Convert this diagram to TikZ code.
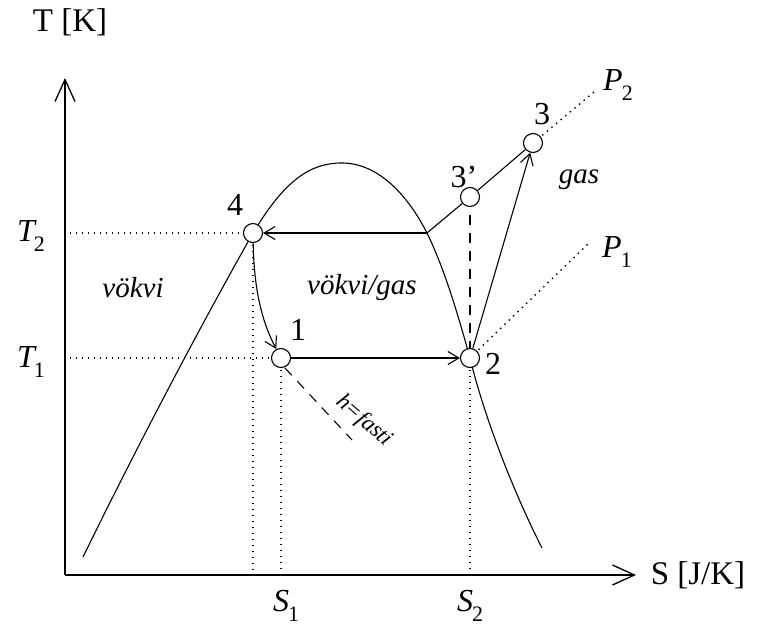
\documentclass[tikz,border=0pt]{standalone}
\usepackage{fontspec}
\setmainfont{Liberation Serif}
\usetikzlibrary{arrows.meta}
\newcommand{\lblsub}[2]{{\itshape #1}\kern-1pt\raisebox{-0.32em}{\fontsize{22}{24}\selectfont #2}}
\begin{document}
\begin{tikzpicture}[x=1pt,y=-1pt,
  state/.style={circle,draw,fill=white,line width=1.1pt,minimum size=19pt,inner sep=0pt},
  lbl/.style={font=\fontsize{32}{35}\selectfont,inner sep=0pt},
  ilbl/.style={font=\fontsize{29}{32}\selectfont\itshape,inner sep=0pt},
  axis/.style={line width=2pt,-{Straight Barb[length=22pt,width=20pt,line width=1.3pt]}},
  proc/.style={line width=1.1pt,-{Straight Barb[length=11pt,width=13pt]}},
  curve/.style={line width=1.1pt},
  guide/.style={line width=1.4pt,dash pattern=on 1.4pt off 4.6pt},
  helper/.style={line width=1.1pt,dash pattern=on 10pt off 8pt}]
\useasboundingbox (0,0) rectangle (761,628);
% axes
\coordinate (O) at (65,575);
\coordinate (Ytip) at (65,78);
\coordinate (Xtip) at (636,575);
\draw[axis] (O) -- (Ytip);
\draw[axis] (O) -- (Xtip);
\node[lbl,font=\fontsize{33}{36}\selectfont] (ylab) at (70,22) {T [K]};
\node[lbl,font=\fontsize{33}{36}\selectfont] (xlab) at (698,575) {S [J/K]};
% helper coordinates
\coordinate (J) at (427,233);
\coordinate (S4b) at (253,575);
\coordinate (S1b) at (281,575);
\coordinate (S2b) at (470,575);
\coordinate (T2a) at (70,233);
\coordinate (T1a) at (70,358);
\coordinate (P2e) at (594,92);
\coordinate (P1e) at (588,244);
\coordinate (hA) at (285,368);
\coordinate (hB) at (352,440);
% dome
\draw[curve] (83,557) .. controls (150,420) and (215,300) .. (253,233)
  .. controls (285,180) and (310,163) .. (342,163)
  .. controls (375,163) and (405,190) .. (427,233)
  .. controls (445,270) and (458,315) .. (470,358)
  .. controls (485,420) and (515,495) .. (542,548);
% guides
\draw[guide] (T2a) -- (253,233);
\draw[guide] (T1a) -- (281,358);
\draw[guide] (253,233) -- (S4b);
\draw[guide] (281,358) -- (S1b);
\draw[guide] (470,358) -- (S2b);
\draw[guide] (533,143) -- (P2e);
\draw[guide] (470,358) -- (P1e);
\draw[helper] (470,197) -- (470,358);
\draw[helper] (hA) -- (hB);
\node[state] (n4) at (253,233) {};
\node[state] (n1) at (281,358) {};
\node[state] (n2) at (470,358) {};
\node[state] (n3p) at (470,197) {};
\node[state] (n3) at (533,143) {};
% process lines
\draw[proc] (J) -- (n4);
\draw[curve] (J) -- (n3p) -- (n3);
\draw[proc] (n4) .. controls (254,290) and (262,322) .. (n1);
\draw[proc] (n1) -- (n2);
\draw[proc] (n2) -- (n3);
% labels
\node[lbl] (l4) at (235,205) {4};
\node[lbl] (l1) at (298,330) {1};
\node[lbl] (l2) at (493,364) {2};
\node[lbl] (l3p) at (464,177) {3’};
\node[lbl] (l3) at (542,114) {3};
\node[lbl] (lT2) at (31,236) {\lblsub{T}{2}};
\node[lbl] (lT1) at (31,362) {\lblsub{T}{1}};
\node[lbl] (lS1) at (286,606) {\lblsub{S}{1}};
\node[lbl] (lS2) at (470,606) {\lblsub{S}{2}};
\node[lbl] (lP2) at (618,85) {\lblsub{P}{2}};
\node[lbl] (lP1) at (617,252) {\lblsub{P}{1}};
\node[ilbl] (gas) at (579,180) {gas};
\node[ilbl] (liq) at (133,288) {vökvi};
\node[ilbl] (mix) at (362,288) {vökvi/gas};
\node[ilbl,font=\fontsize{23}{25}\selectfont\itshape,rotate=-41] (hf) at (364,421) {h=fasti};
\end{tikzpicture}
\end{document}
